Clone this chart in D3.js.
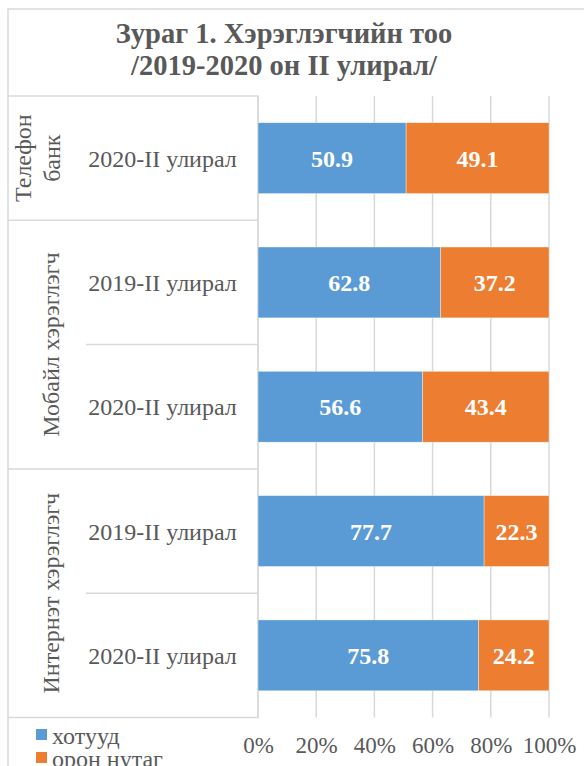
<!DOCTYPE html>
<html><head><meta charset="utf-8">
<script src="https://cdn.jsdelivr.net/npm/d3@7/dist/d3.min.js"></script>
<style>
html,body{margin:0;padding:0;background:#fff;overflow:hidden}
svg{display:block}
text{font-family:"Liberation Serif","Times New Roman",serif}
</style></head><body>
<script>
// ---- data ----
const titleLines = ["Зураг 1. Хэрэглэгчийн тоо", "/2019-2020 он II улирал/"];
const groups = ["Телефон банк", "Мобайл хэрэглэгч", "Интернэт хэрэглэгч"];
const rowGroup = [0, 1, 1, 2, 2];
const rowLabels = ["2020-II улирал", "2019-II улирал", "2020-II улирал", "2019-II улирал", "2020-II улирал"];
const seriesNames = ["хотууд", "орон нутаг"];
const hotuud = [50.9, 62.8, 56.6, 77.7, 75.8];
const oronNutag = [49.1, 37.2, 43.4, 22.3, 24.2];
const xTicks = [0, 20, 40, 60, 80, 100];

// ---- layout ----
const W = 584, H = 766;
const colors = ["#5B9BD5", "#ED7D31"];
const grey = "#595959", lineC = "#d9d9d9";
const svg = d3.select("body").append("svg").attr("width", W).attr("height", H);

const mLeft = 8, mTop = 96, mBottom = 717.5, axisX = 258, subX = 86;
const x = d3.scaleLinear().domain([0, 100]).range([axisX, 549]);
const y = d3.scaleBand().domain(d3.range(rowLabels.length)).range([mTop, mBottom]).paddingInner(0.43).paddingOuter(0.215);
const yRow = d3.scaleBand().domain(d3.range(rowLabels.length)).range([mTop, mBottom]);

// chart border
svg.append("path").attr("d", `M${mLeft},${H + 5}V9H${W + 5}`).attr("fill", "none").attr("stroke", lineC).attr("stroke-width", 1.5);

// title
const title = svg.append("text").attr("text-anchor", "middle").attr("fill", grey)
  .attr("font-weight", "bold").attr("font-size", 28.5);
titleLines.forEach((t, i) => title.append("tspan").attr("x", 284).attr("y", 43 + i * 32).text(t));

// gridlines
const grid = svg.append("g");
grid.selectAll("line").data(xTicks).join("line")
  .attr("x1", d => x(d)).attr("x2", d => x(d)).attr("y1", mTop).attr("y2", mBottom)
  .attr("stroke", lineC).attr("stroke-width", 1.5);

// x axis labels
const xAxis = d3.axisBottom(x).tickValues(xTicks).tickFormat(d => d + "%").tickSize(0).tickPadding(0);
const gx = svg.append("g").attr("transform", `translate(0,${753})`).call(xAxis);
gx.select(".domain").remove();
gx.selectAll("text").attr("dy", 0).attr("font-size", 23).attr("fill", grey)
  .style("font-family", '"Liberation Serif",serif');

// category table
const tbl = svg.append("g").attr("fill", "none").attr("stroke", lineC).attr("stroke-width", 1.5);
tbl.append("path").attr("d", `M${mLeft},${mTop}H${axisX}V${mBottom}H${mLeft}`);
const groupRanges = groups.map((g, gi) => {
  const rows = rowGroup.map((v, i) => v === gi ? i : -1).filter(i => i >= 0);
  return { name: g, y0: yRow(rows[0]), y1: yRow(rows[rows.length - 1]) + yRow.bandwidth() };
});
groupRanges.slice(1).forEach(g => tbl.append("line").attr("x1", mLeft).attr("x2", axisX).attr("y1", g.y0).attr("y2", g.y0));
rowLabels.forEach((r, i) => {
  if (i > 0 && rowGroup[i] === rowGroup[i - 1]) {
    tbl.append("line").attr("x1", subX).attr("x2", axisX).attr("y1", yRow(i)).attr("y2", yRow(i));
  }
});

// row labels
svg.append("g").selectAll("text").data(rowLabels).join("text")
  .attr("x", 162.5).attr("y", (d, i) => yRow(i) + yRow.bandwidth() / 2 + 8.5)
  .attr("text-anchor", "middle").attr("font-size", 24).attr("fill", grey).text(d => d);

// group labels (rotated, wrapped if too long)
const gl = svg.append("g");
groupRanges.forEach(g => {
  const cy = (g.y0 + g.y1) / 2;
  const t = gl.append("text").attr("transform", `translate(0,${cy}) rotate(-90)`)
    .attr("text-anchor", "middle").attr("font-size", 24).attr("fill", grey);
  const tmp = t.append("tspan").attr("x", 0).attr("y", 59).text(g.name);
  const len = tmp.node().getComputedTextLength();
  if (len > (g.y1 - g.y0) - 8) {
    tmp.remove();
    const words = g.name.split(" ");
    words.forEach((w, i) => t.append("tspan").attr("x", 0).attr("y", 60 - (words.length - 1 - i) * 29).text(w));
  }
});

// bars
const stackData = rowLabels.map((r, i) => ({ i, v: [hotuud[i], oronNutag[i]] }));
const barG = svg.append("g");
stackData.forEach(d => {
  let acc = 0;
  d.v.forEach((v, s) => {
    barG.append("rect").attr("x", x(acc)).attr("y", y(d.i)).attr("width", x(acc + v) - x(acc))
      .attr("height", y.bandwidth()).attr("fill", colors[s]).attr("stroke", "#ffffff").attr("stroke-opacity", 0.6).attr("stroke-width", 0.6);
    barG.append("text").attr("x", x(acc + v / 2)).attr("y", y(d.i) + y.bandwidth() / 2 + 8.5)
      .attr("text-anchor", "middle").attr("font-size", 24).attr("font-weight", "bold").attr("fill", "#fff")
      .text(v.toFixed(1));
    acc += v;
  });
});

// legend
const lg = svg.append("g");
seriesNames.forEach((n, i) => {
  lg.append("rect").attr("x", 36).attr("y", 729 + i * 23).attr("width", 11).attr("height", 11).attr("fill", colors[i]);
  lg.append("text").attr("x", 52).attr("y", 744 + i * 23).attr("font-size", 24).attr("fill", grey).text(n);
});
</script>
</body></html>
